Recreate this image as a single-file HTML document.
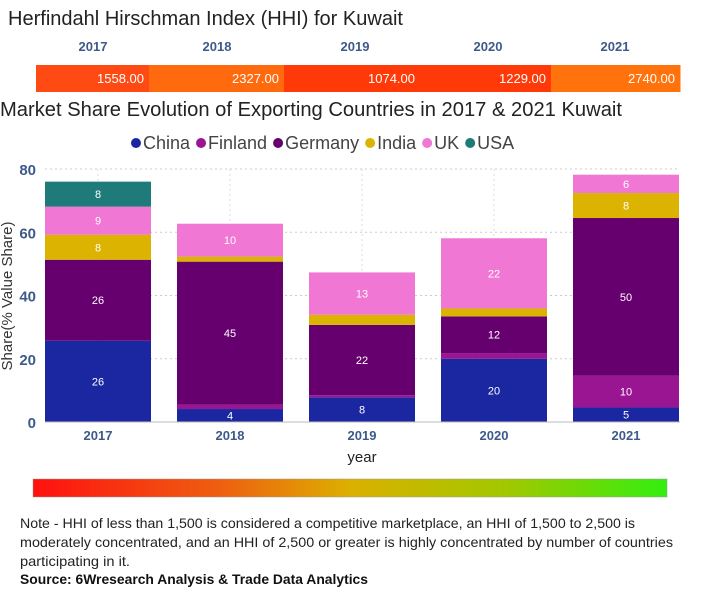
<!DOCTYPE html>
<html><head><meta charset="utf-8"><style>
html,body{margin:0;padding:0;background:#fff;}
svg{display:block;font-family:"Liberation Sans",sans-serif;}
</style></head><body>
<svg id="chart" width="705" height="600" viewBox="0 0 705 600">
<defs>
<linearGradient id="grad" x1="0" x2="1" y1="0" y2="0">
<stop offset="0" stop-color="#ff1010"/><stop offset="0.3" stop-color="#ee6010"/><stop offset="0.5" stop-color="#dcb000"/><stop offset="0.75" stop-color="#a0c800"/><stop offset="1" stop-color="#33ee10"/>
</linearGradient>
</defs>
<text x="8" y="25" font-size="20" fill="#222" textLength="395" lengthAdjust="spacingAndGlyphs">Herfindahl Hirschman Index (HHI) for Kuwait</text>
<g id="hhi"></g>
<text x="0" y="116" font-size="20" fill="#222" textLength="622" lengthAdjust="spacingAndGlyphs">Market Share Evolution of Exporting Countries in 2017 &amp; 2021 Kuwait</text>
<g id="legend"></g>
<g id="grid"></g>
<g id="bars"></g>
<g id="axes"></g>
<text transform="translate(12,296) rotate(-90)" text-anchor="middle" font-size="15" fill="#333">Share(% Value Share)</text>
<text x="362" y="462" text-anchor="middle" font-size="15" fill="#222">year</text>
<rect x="33" y="479" width="634" height="18" fill="url(#grad)" stroke="#999" stroke-width="0.5"/>
<g font-size="14" fill="#222">
<text x="20" y="528" textLength="615" lengthAdjust="spacingAndGlyphs">Note - HHI of less than 1,500 is considered a competitive marketplace, an HHI of 1,500 to 2,500 is</text>
<text x="20" y="547" textLength="653" lengthAdjust="spacingAndGlyphs">moderately concentrated, and an HHI of 2,500 or greater is highly concentrated by number of countries</text>
<text x="20" y="566" textLength="110" lengthAdjust="spacingAndGlyphs">participating in it.</text>
</g>
<text x="20" y="584" font-size="14" font-weight="bold" fill="#111" textLength="348" lengthAdjust="spacingAndGlyphs">Source: 6Wresearch Analysis &amp; Trade Data Analytics</text>
</svg>
<script>
const years = ["2017","2018","2019","2020","2021"];
const hhiValues = [1558, 2327, 1074, 1229, 2740];
const seriesNames = ["China","Finland","Germany","India","UK","USA"];
const china = [25.7, 4.1, 7.8, 20.0, 4.6];
const finland = [0, 1.4, 0.7, 1.8, 10.0];
const germany = [25.6, 45.2, 22.2, 11.6, 49.9];
const india = [7.9, 1.6, 3.2, 2.5, 7.9];
const uk = [8.9, 10.4, 13.4, 22.2, 5.8];
const usa = [7.9, 0, 0, 0, 0];
const yTicks = [0, 20, 40, 60, 80];

const NS = "http://www.w3.org/2000/svg";
function mk(tag, attrs, parent, text){const e=document.createElementNS(NS,tag);for(const k in attrs)e.setAttribute(k,attrs[k]);if(text!==undefined)e.textContent=text;parent.appendChild(e);return e;}
const colors = ["#1a27a0","#9a1591","#67006f","#dbb300","#f077d4","#1f7a7a"];
const series = [china, finland, germany, india, uk, usa];

// HHI table
const hhiG = document.getElementById('hhi');
const segEdges = [36,149,284,420,551,680];
function hhiColor(v){ if(v<1300) return "#ff3a08"; if(v<2000) return "#ff4a14"; if(v<2500) return "#ff6a0e"; return "#ff720c"; }
const hhiCenters = [93,217,355,488,615];
years.forEach((y,i)=>{
  const x0 = segEdges[i], x1 = segEdges[i+1];
  const r = mk('rect',{x:x0,y:65,width:x1-x0+0.5,height:27,fill:hhiColor(hhiValues[i])},hhiG);
  
  
  const t = mk('text',{x:x1-5,y:83,'text-anchor':'end','font-size':13,fill:'#fff'},hhiG,hhiValues[i].toFixed(2));
  
  
  const h = mk('text',{x:hhiCenters[i],y:51,'text-anchor':'middle','font-size':13,'font-weight':'bold',fill:'#3d5a8a'},hhiG,y);
  
  
});

// Legend
const lg = document.getElementById('legend');
let lx = 136;
seriesNames.forEach((n,i)=>{
  const c = mk('circle',{cx:lx,cy:143,r:5,fill:colors[i]},lg);
  
  
  const t = mk('text',{x:lx+7,y:149,'font-size':18,fill:'#444'},lg,n);
  
  
  lx += 14 + t.getComputedTextLength() + 4;
});

// Chart
const plotL = 45, plotR = 680, y0px = 422, y80px = 169;
function yScale(v){ return y0px - (v/80)*(y0px-y80px); }
const step = 132, bw = 106;
function xLeft(i){ return 45 + i*step; }
const grid = document.getElementById('grid');
yTicks.forEach(t=>{
  if(t>0){
    const l = mk('line',{x1:plotL,x2:plotR,y1:yScale(t),y2:yScale(t),stroke:'#ccc','stroke-dasharray':'2,3'},grid);
    
    
  }
  const tx = mk('text',{x:36,y:yScale(t)+6,'text-anchor':'end','font-size':15,'font-weight':'bold',fill:'#3d5a8a'},grid,String(t));
  
  
});
years.forEach((y,i)=>{
  const cx = xLeft(i)+bw/2;
  const l = mk('line',{x1:cx,x2:cx,y1:y80px,y2:y0px,stroke:'#ddd','stroke-dasharray':'2,3'},grid);
  
  
});
const bars = document.getElementById('bars');
years.forEach((y,i)=>{
  let cum = 0;
  series.forEach((s,k)=>{
    const v = s[i];
    if(v<=0) return;
    const top = yScale(cum+v), bot = yScale(cum);
    const r = mk('rect',{x:xLeft(i),y:top,width:bw,height:bot-top,fill:colors[k]},bars);
    
    
    if(v>=3.5){
      const t = mk('text',{x:xLeft(i)+bw/2,y:(top+bot)/2+4,'text-anchor':'middle','font-size':11,fill:'#fff'},bars,String(Math.round(v)));
      
      
    }
    cum += v;
  });
});
const axes = document.getElementById('axes');
const base = mk('line',{x1:plotL,x2:plotR,y1:y0px,y2:y0px,stroke:'#bbb'},axes);


years.forEach((y,i)=>{
  const t = mk('text',{x:xLeft(i)+bw/2,y:440,'text-anchor':'middle','font-size':13,'font-weight':'bold',fill:'#3d5a8a'},axes,y);
  
  
});
</script>
</body></html>
